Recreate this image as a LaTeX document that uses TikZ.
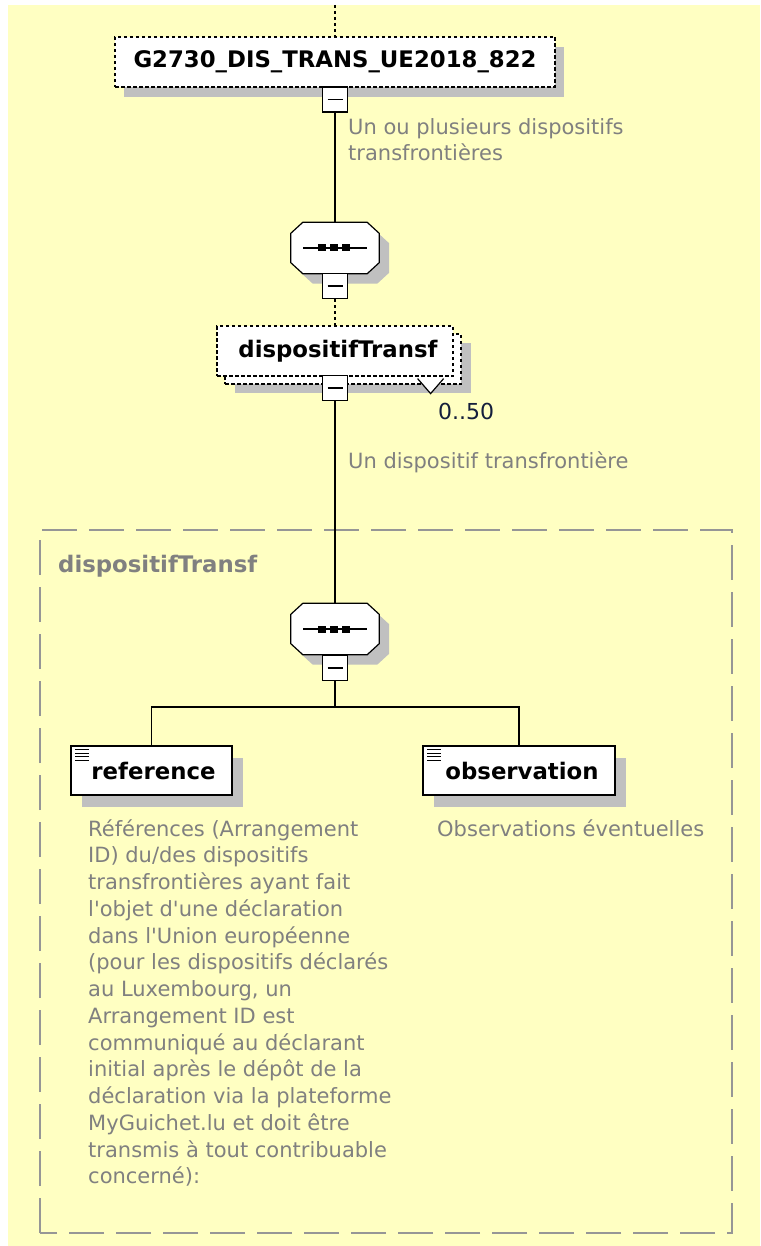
\documentclass[tikz,border=0pt]{standalone}
\usepackage{fontspec}
\setmainfont{DejaVu Sans}[Ligatures=TeXOff]
\usetikzlibrary{calc}
\definecolor{bgyellow}{RGB}{255,255,194}
\definecolor{txtgray}{RGB}{128,128,128}
\definecolor{shadowgray}{RGB}{192,192,192}
\definecolor{boxgray}{RGB}{150,150,150}
\definecolor{cardblue}{RGB}{20,30,60}
\newcommand\octagonpath[3]{%
  \path[#2] ($(#1.north west)+(#3+12,#3)$) -- ($(#1.north east)+(#3-12,#3)$)
    -- ($(#1.north east)+(#3,#3+11)$) -- ($(#1.south east)+(#3,#3-11)$)
    -- ($(#1.south east)+(#3-12,#3)$) -- ($(#1.south west)+(#3+12,#3)$)
    -- ($(#1.south west)+(#3,#3-11)$) -- ($(#1.north west)+(#3,#3+11)$) -- cycle;}
\tikzset{
  elem/.style={draw=black, fill=white, line width=1.2pt, inner sep=0pt,
    font=\fontsize{22.8}{27}\selectfont\bfseries},
  optelem/.style={elem, dash pattern=on 3.5pt off 2.5pt},
  shadowbox/.style={fill=shadowgray, draw=none, inner sep=0pt},
  minusbox/.style={draw=black, fill=white, line width=1.2pt, minimum size=25pt, inner sep=0pt,
    path picture={\draw[line width=1.2pt] ([xshift=5pt]path picture bounding box.west) -- ([xshift=-5pt]path picture bounding box.east);}},
  seqnode/.style={minimum width=88pt, minimum height=51pt, inner sep=0pt},
  conn/.style={draw=black, line width=1.2pt},
  dotconn/.style={draw=black, line width=1.2pt, dash pattern=on 3pt off 3pt},
  note/.style={text=txtgray, font=\fontsize{21}{26.75}\selectfont, align=left, anchor=north west, inner sep=0pt},
  grouplabel/.style={text=txtgray, font=\fontsize{22.8}{27}\selectfont\bfseries, anchor=west, inner sep=0pt},
  groupbox/.style={draw=boxgray, line width=1.5pt, dash pattern=on 35pt off 12pt}
}
\begin{document}
\begin{tikzpicture}[x=1pt,y=-1pt]
\useasboundingbox (0,0) rectangle (760,1246);
\fill[white] (0,0) rectangle (760,1246);
\fill[bgyellow] (8,5) rectangle (760,1246);

% group box
\draw[groupbox] (40,1233) -- (40,530) -- (732,530) -- (732,1233) -- (40,1233);
\node[grouplabel] (glabel) at (58,566) {dispositifTransf};

% root element
\coordinate (top) at (335,5);
\node[shadowbox, minimum width=440pt, minimum height=50pt] (rootsh) at (344,72) {};
\node[optelem, minimum width=440pt, minimum height=50pt] (root) at (335,62) {G2730\_DIS\_TRANS\_UE2018\_822};
\draw[dotconn] (top) -- (root.north);
\node[minusbox] (m1) at (335,99.5) {};
\node[note] (n1) at (348,118) {Un ou plusieurs dispositifs\\transfrontières};

% sequence 1
\node[seqnode] (seq1) at (335,248) {};
\octagonpath{seq1}{fill=shadowgray}{10}
\draw[conn] (m1.south) -- (seq1.north);
\octagonpath{seq1}{fill=white,draw=black,line width=1.2pt}{0}
\draw[line width=1.2pt] ($(seq1.center)+(-32,0)$) -- ($(seq1.center)+(32,0)$);
\foreach \dx in {-13,-1,11} \fill ($(seq1.center)+(\dx-4,-3.5)$) rectangle +(8,7);
\node[minusbox] (m2) at (335,286) {};

% dispositifTransf element (repeating)
\node[shadowbox, minimum width=236pt, minimum height=50pt] (dtsh) at (353,368) {};
\node[optelem, minimum width=236pt, minimum height=50pt] (dtback) at (343,359) {};
\draw[draw=black, fill=white, line width=1.2pt] ($(dtback.south east)+(-44,-6)$) -- ($(dtback.south east)+(-31,9)$) -- ($(dtback.south east)+(-18,-6)$);
\node[optelem, minimum width=236pt, minimum height=50pt] (dt) at (335,351) {\hspace*{6pt}dispositifTransf};
\draw[dotconn] (m2.south) -- (dt.north);
\node[minusbox] (m3) at (335,388) {};
\node[text=cardblue, font=\fontsize{22}{26}\selectfont, anchor=west, inner sep=0pt] (card) at (438,411) {0..50};
\node[note] (n2) at (348,452) {Un dispositif transfrontière};

% sequence 2
\node[seqnode] (seq2) at (335,629) {};
\octagonpath{seq2}{fill=shadowgray}{10}
\draw[conn] (m3.south) -- (seq2.north);
\octagonpath{seq2}{fill=white,draw=black,line width=1.2pt}{0}
\draw[line width=1.2pt] ($(seq2.center)+(-32,0)$) -- ($(seq2.center)+(32,0)$);
\foreach \dx in {-13,-1,11} \fill ($(seq2.center)+(\dx-4,-3.5)$) rectangle +(8,7);
\node[minusbox] (m4) at (335,668) {};
\coordinate (fork) at (335,707);

% children
\node[shadowbox, minimum width=161pt, minimum height=49pt] (refsh) at (162,782) {};
\node[elem, minimum width=161pt, minimum height=49pt] (ref) at (151.5,770.5) {\hspace*{4pt}reference};
\node[shadowbox, minimum width=192pt, minimum height=49pt] (obssh) at (530,782) {};
\node[elem, minimum width=192pt, minimum height=49pt] (obs) at (519,770.5) {\hspace*{6pt}observation};
\foreach \b in {ref,obs} {
  \foreach \dy in {4.5,8,11.5,15} \draw[line width=1pt] ($(\b.north west)+(5,\dy)$) -- +(14,0);
}
\draw[conn] (m4.south) -- (fork);
\draw[conn] (fork) -| (ref.north);
\draw[conn] (fork) -| (obs.north);

\node[note] (n3) at (88,819) {Références (Arrangement\\ID) du/des dispositifs\\transfrontières ayant fait\\l'objet d'une déclaration\\dans l'Union européenne\\(pour les dispositifs déclarés\\au Luxembourg, un\\Arrangement ID est\\communiqué au déclarant\\initial après le dépôt de la\\déclaration via la plateforme\\MyGuichet.lu et doit être\\transmis à tout contribuable\\concerné):};
\node[note] (n4) at (437,819) {Observations éventuelles};
\end{tikzpicture}
\end{document}
